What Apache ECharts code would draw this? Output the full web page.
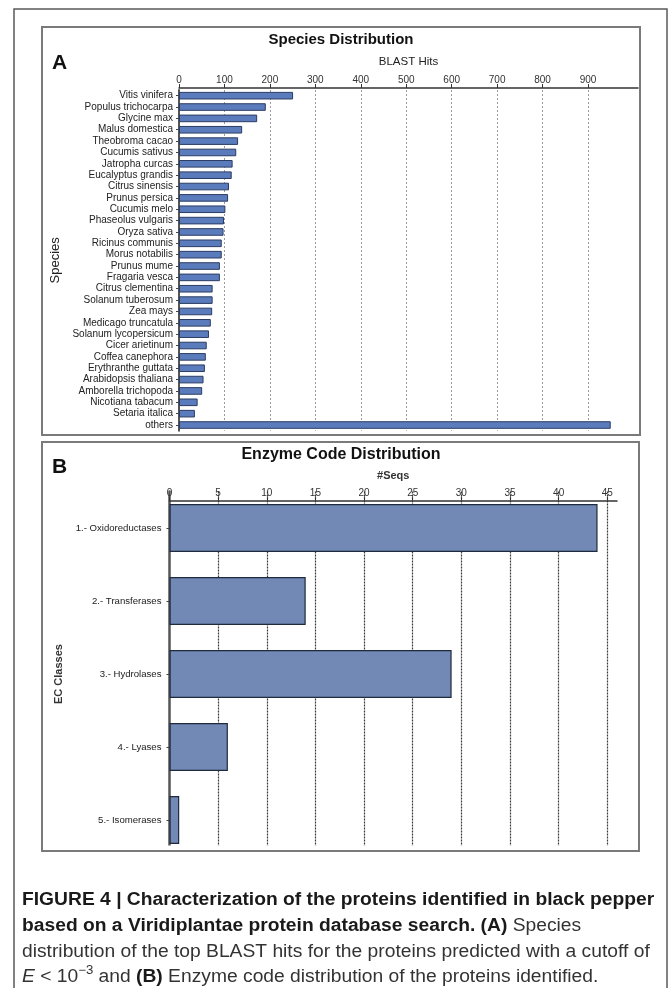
<!DOCTYPE html>
<html>
<head>
<meta charset="utf-8">
<script src="https://cdn.jsdelivr.net/npm/echarts@6/dist/echarts.min.js"></script>
<style>
  html, body { margin: 0; padding: 0; background: #ffffff; }
  #chart { width: 669px; height: 988px; }
</style>
</head>
<body>
<div id="chart"></div>
<script>
// Panel A: species of the top BLAST hits
const species = [
  'Vitis vinifera', 'Populus trichocarpa', 'Glycine max', 'Malus domestica',
  'Theobroma cacao', 'Cucumis sativus', 'Jatropha curcas', 'Eucalyptus grandis',
  'Citrus sinensis', 'Prunus persica', 'Cucumis melo', 'Phaseolus vulgaris',
  'Oryza sativa', 'Ricinus communis', 'Morus notabilis', 'Prunus mume',
  'Fragaria vesca', 'Citrus clementina', 'Solanum tuberosum', 'Zea mays',
  'Medicago truncatula', 'Solanum lycopersicum', 'Cicer arietinum', 'Coffea canephora',
  'Erythranthe guttata', 'Arabidopsis thaliana', 'Amborella trichopoda', 'Nicotiana tabacum',
  'Setaria italica', 'others'
];
const blastHits = [
  251, 191, 172, 139, 130, 126, 118, 116, 110, 108, 102, 99, 98, 94, 94,
  90, 90, 74, 74, 73, 70, 66, 61, 59, 57, 54, 51, 41, 35, 950
];
const blastTicks = [0, 100, 200, 300, 400, 500, 600, 700, 800, 900];

// Panel B: enzyme classes
const ecClasses = ['1.- Oxidoreductases', '2.- Transferases', '3.- Hydrolases', '4.- Lyases', '5.- Isomerases'];
const seqCounts = [44, 14, 29, 6, 1];
const seqTicks = [0, 5, 10, 15, 20, 25, 30, 35, 40, 45];

const FONT = 'Liberation Sans, Arial, sans-serif';
const CAPTION_SIZE = 17.5;
const CAPTION_STRETCH = 1.1;

// split lines are coloured per tick; the lines at 0 and past the last labelled tick stay hidden
const gridColorsA = ['rgba(0,0,0,0)', '#9a9a9a', '#9a9a9a', '#9a9a9a', '#9a9a9a', '#9a9a9a',
  '#9a9a9a', '#9a9a9a', '#9a9a9a', '#9a9a9a', 'rgba(0,0,0,0)', 'rgba(0,0,0,0)'];
const gridColorsB = ['rgba(0,0,0,0)', '#3a3a3a', '#3a3a3a', '#3a3a3a', '#3a3a3a', '#3a3a3a',
  '#3a3a3a', '#3a3a3a', '#3a3a3a', '#3a3a3a', 'rgba(0,0,0,0)'];

const chart = echarts.init(document.getElementById('chart'), null, { renderer: 'canvas' });

function captionLine(y, text, rich, base) {
  return {
    type: 'text', z: 101, x: 22, y: y, scaleX: CAPTION_STRETCH, scaleY: 1,
    style: Object.assign({
      text: text, align: 'left', verticalAlign: 'middle',
      fontFamily: FONT, fontSize: CAPTION_SIZE, fill: '#333'
    }, base || {}, rich ? { rich: rich } : {})
  };
}

const option = {
  backgroundColor: '#ffffff',
  animation: false,
  grid: [
    { left: 179, right: 31, top: 90, height: 340.7, containLabel: false },
    { left: 169.5, right: 52, top: 491.5, height: 365, containLabel: false }
  ],
  xAxis: [
    {
      type: 'value', gridIndex: 0, position: 'top', min: 0, max: 1010, interval: 100, offset: 2,
      name: 'BLAST Hits', nameLocation: 'middle', nameGap: 20,
      nameTextStyle: { fontFamily: FONT, fontSize: 11.5, color: '#222' },
      axisLine: { show: true, onZero: false, lineStyle: { color: '#333', width: 1.5 } },
      axisTick: { show: true, length: 4, customValues: blastTicks, lineStyle: { color: '#333' } },
      axisLabel: { customValues: blastTicks, fontFamily: FONT, fontSize: 10, color: '#333', margin: 3 },
      splitLine: { show: true, lineStyle: { color: gridColorsA, type: [2, 2], width: 1 } }
    },
    {
      type: 'value', gridIndex: 1, position: 'top', min: 0, max: 46, interval: 5, offset: -9,
      name: '#Seqs', nameLocation: 'middle', nameGap: 19,
      nameTextStyle: { fontFamily: FONT, fontSize: 11, fontWeight: 'bold', color: '#333' },
      axisLine: { show: true, onZero: false, lineStyle: { color: '#333', width: 1.5 } },
      axisTick: { show: true, length: 4, customValues: seqTicks, lineStyle: { color: '#333' } },
      axisLabel: { customValues: seqTicks, fontFamily: FONT, fontSize: 10, color: '#333', margin: 2 },
      splitLine: { show: true, lineStyle: { color: gridColorsB, type: [2, 1], width: 1.2 } }
    }
  ],
  yAxis: [
    {
      type: 'category', gridIndex: 0, data: species, inverse: true,
      name: 'Species', nameLocation: 'middle', nameRotate: 90, nameGap: 111,
      nameTextStyle: { fontFamily: FONT, fontSize: 13, color: '#222' },
      axisLine: { show: true, lineStyle: { color: '#555', width: 2 } },
      axisTick: { show: true, length: 3, alignWithLabel: true, lineStyle: { color: '#444' } },
      axisLabel: { fontFamily: FONT, fontSize: 10, color: '#222', margin: 6, interval: 0 },
      splitLine: { show: false }
    },
    {
      type: 'category', gridIndex: 1, data: ecClasses, inverse: true,
      name: 'EC Classes', nameLocation: 'middle', nameRotate: 90, nameGap: 97,
      nameTextStyle: { fontFamily: FONT, fontSize: 11, fontWeight: 'bold', color: '#333' },
      axisLine: { show: true, lineStyle: { color: '#555', width: 2.5 } },
      axisTick: { show: true, length: 3, alignWithLabel: true, lineStyle: { color: '#444' } },
      axisLabel: { fontFamily: FONT, fontSize: 9.6, color: '#222', margin: 8, interval: 0 },
      splitLine: { show: false }
    }
  ],
  series: [
    {
      type: 'bar', xAxisIndex: 0, yAxisIndex: 0, data: blastHits, barWidth: 7.6,
      itemStyle: { color: '#5b7cbc', borderColor: '#2b3c63', borderWidth: 1 }
    },
    {
      type: 'bar', xAxisIndex: 1, yAxisIndex: 1, data: seqCounts, barWidth: 48,
      itemStyle: { color: '#7189b4', borderColor: '#1f2a3c', borderWidth: 1.2 }
    }
  ],
  graphic: [
    // outer figure frame
    { type: 'rect', z: 100, shape: { x: 14, y: 9, width: 653, height: 1000 },
      style: { fill: 'none', stroke: '#5a5a5a', lineWidth: 1.5 } },
    // trims the lower panel's plot at its frame
    { type: 'rect', z: 100, shape: { x: 40, y: 845.5, width: 602, height: 16 },
      style: { fill: '#ffffff', stroke: 'none' } },
    // panel frames
    { type: 'rect', z: 101, shape: { x: 42, y: 27, width: 598, height: 408 },
      style: { fill: 'none', stroke: '#7a7a7a', lineWidth: 2 } },
    { type: 'rect', z: 101, shape: { x: 42, y: 442, width: 597, height: 409 },
      style: { fill: 'none', stroke: '#7a7a7a', lineWidth: 2 } },
    // panel titles and letters
    { type: 'text', z: 101, x: 341, y: 40,
      style: { text: 'Species Distribution', align: 'center', verticalAlign: 'middle',
        fontFamily: FONT, fontSize: 15, fontWeight: 'bold', fill: '#111' } },
    { type: 'text', z: 101, x: 52, y: 63,
      style: { text: 'A', align: 'left', verticalAlign: 'middle',
        fontFamily: FONT, fontSize: 21, fontWeight: 'bold', fill: '#111' } },
    { type: 'text', z: 101, x: 341, y: 455,
      style: { text: 'Enzyme Code Distribution', align: 'center', verticalAlign: 'middle',
        fontFamily: FONT, fontSize: 16, fontWeight: 'bold', fill: '#111' } },
    { type: 'text', z: 101, x: 52, y: 467,
      style: { text: 'B', align: 'left', verticalAlign: 'middle',
        fontFamily: FONT, fontSize: 21, fontWeight: 'bold', fill: '#111' } },
    // caption
    captionLine(900, 'FIGURE 4 | Characterization of the proteins identified in black pepper', null,
      { fontWeight: 'bold', fill: '#1a1a1a' }),
    captionLine(926, '{b|based on a Viridiplantae protein database search. (A)}{n| Species}', {
      b: { fontFamily: FONT, fontSize: CAPTION_SIZE, fontWeight: 'bold', fill: '#1a1a1a' },
      n: { fontFamily: FONT, fontSize: CAPTION_SIZE, fill: '#333' }
    }),
    captionLine(952, 'distribution of the top BLAST hits for the proteins predicted with a cutoff of'),
    captionLine(977, '{i|E}{n| < 10}{s|−3}{n| and }{b|(B)}{n| Enzyme code distribution of the proteins identified.}', {
      i: { fontFamily: FONT, fontSize: CAPTION_SIZE, fontStyle: 'italic', fill: '#333', lineHeight: 24 },
      n: { fontFamily: FONT, fontSize: CAPTION_SIZE, fill: '#333', lineHeight: 24 },
      b: { fontFamily: FONT, fontSize: CAPTION_SIZE, fontWeight: 'bold', fill: '#1a1a1a', lineHeight: 24 },
      s: { fontFamily: FONT, fontSize: 12, fill: '#333', lineHeight: 12, verticalAlign: 'top' }
    })
  ]
};

chart.setOption(option);
</script>
</body>
</html>
